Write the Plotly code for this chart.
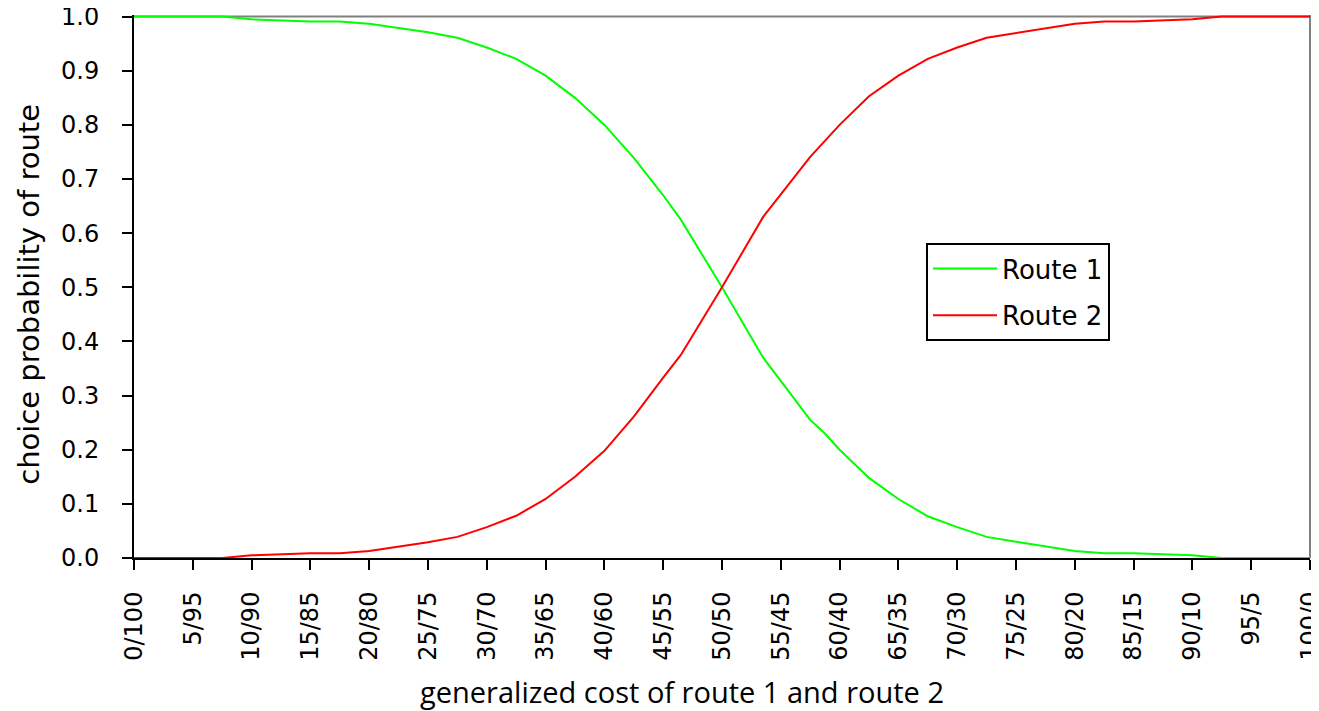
import plotly.graph_objects as go

cost_share = [0, 7.5, 10, 15, 17.5, 20, 25, 27.5, 30, 32.5, 35, 37.5, 40, 42.5, 45, 46.5,
              50, 53.5, 57.5, 58.75, 60, 62.5, 65, 67.5, 70, 72.5, 75, 77.5, 80, 82.5,
              85, 90, 92.5, 100]
route2 = [0.0, 0.0, 0.005, 0.009, 0.009, 0.013, 0.029, 0.039, 0.057, 0.078, 0.109, 0.15,
          0.198, 0.261, 0.333, 0.375, 0.5, 0.63, 0.741, 0.77, 0.8, 0.853, 0.891, 0.922,
          0.943, 0.961, 0.97, 0.978, 0.987, 0.991, 0.991, 0.995, 1.0, 1.0]
route1 = [1.0, 1.0, 0.995, 0.991, 0.991, 0.987, 0.971, 0.961, 0.943, 0.922, 0.891, 0.85,
          0.8, 0.739, 0.67, 0.625, 0.5, 0.37, 0.255, 0.23, 0.2, 0.148, 0.109, 0.077,
          0.057, 0.039, 0.03, 0.022, 0.013, 0.009, 0.009, 0.005, 0.0, 0.0]

tick_vals = list(range(0, 101, 5))
tick_text = ["0/100", "5/95", "10/90", "15/85", "20/80", "25/75", "30/70", "35/65",
             "40/60", "45/55", "50/50", "55/45", "60/40", "65/35", "70/30", "75/25",
             "80/20", "85/15", "90/10", "95/5", "100/0"]
y_vals = [0, 0.1, 0.2, 0.3, 0.4, 0.5, 0.6, 0.7, 0.8, 0.9, 1.0]
y_text = ["0.0", "0.1", "0.2", "0.3", "0.4", "0.5", "0.6", "0.7", "0.8", "0.9", "1.0"]

fig = go.Figure()
fig.add_trace(go.Scatter(x=cost_share, y=route1, mode="lines", name="Route 1",
                         legendgroup="r1",
                         line=dict(color="#00FF00", width=2), cliponaxis=False))
fig.add_trace(go.Scatter(x=cost_share, y=route2, mode="lines", name="Route 2",
                         legendgroup="r2",
                         line=dict(color="#FF0000", width=2), cliponaxis=False))

fig.add_shape(type="line", xref="paper", yref="y", x0=0, x1=1, y0=1.0, y1=1.0,
              line=dict(color="#808080", width=2), layer="below")
fig.add_shape(type="line", xref="paper", yref="paper", x0=1, x1=1, y0=0, y1=1,
              line=dict(color="#808080", width=2), layer="below")

fig.add_annotation(text="generalized cost of route 1 and route 2",
                   xref="paper", yref="paper", x=0.466, y=-0.245,
                   xanchor="center", yanchor="middle", showarrow=False,
                   font=dict(family="Open Sans, sans-serif", size=29, color="black"))
fig.add_annotation(text="choice probability of route",
                   xref="paper", yref="paper", x=-0.09, y=0.485,
                   xanchor="center", yanchor="middle", showarrow=False, textangle=-90,
                   font=dict(family="DejaVu Sans, sans-serif", size=29, color="black"))

tick_font = dict(family="DejaVu Sans, sans-serif", size=24, color="black")

fig.update_layout(
    width=1311, height=703,
    margin=dict(l=126, r=9, t=7, b=153, autoexpand=False),
    paper_bgcolor="white", plot_bgcolor="white",
    showlegend=True,
    legend=dict(x=0.6735, y=0.580, xanchor="left", yanchor="top",
                bordercolor="black", borderwidth=2, bgcolor="white",
                font=dict(family="DejaVu Sans, sans-serif", size=26, color="black"),
                traceorder="grouped", tracegroupgap=10, itemwidth=64),
    xaxis=dict(range=[0, 100], tickmode="array", tickvals=tick_vals, ticktext=tick_text,
               tickangle=-90, showgrid=False, zeroline=False, automargin=False,
               showline=True, linecolor="black", linewidth=2,
               ticks="outside", ticklen=10, tickwidth=2, tickcolor="black",
               ticklabelstandoff=12, ticklabeloverflow="allow",
               tickfont=tick_font),
    yaxis=dict(range=[0, 1.003], tickmode="array", tickvals=y_vals, ticktext=y_text,
               showgrid=False, zeroline=False, automargin=False,
               showline=True, linecolor="black", linewidth=2,
               ticks="outside", ticklen=10, tickwidth=2, tickcolor="black",
               ticklabelstandoff=18, ticklabeloverflow="allow",
               tickfont=tick_font),
)

fig.write_html("out.html")
